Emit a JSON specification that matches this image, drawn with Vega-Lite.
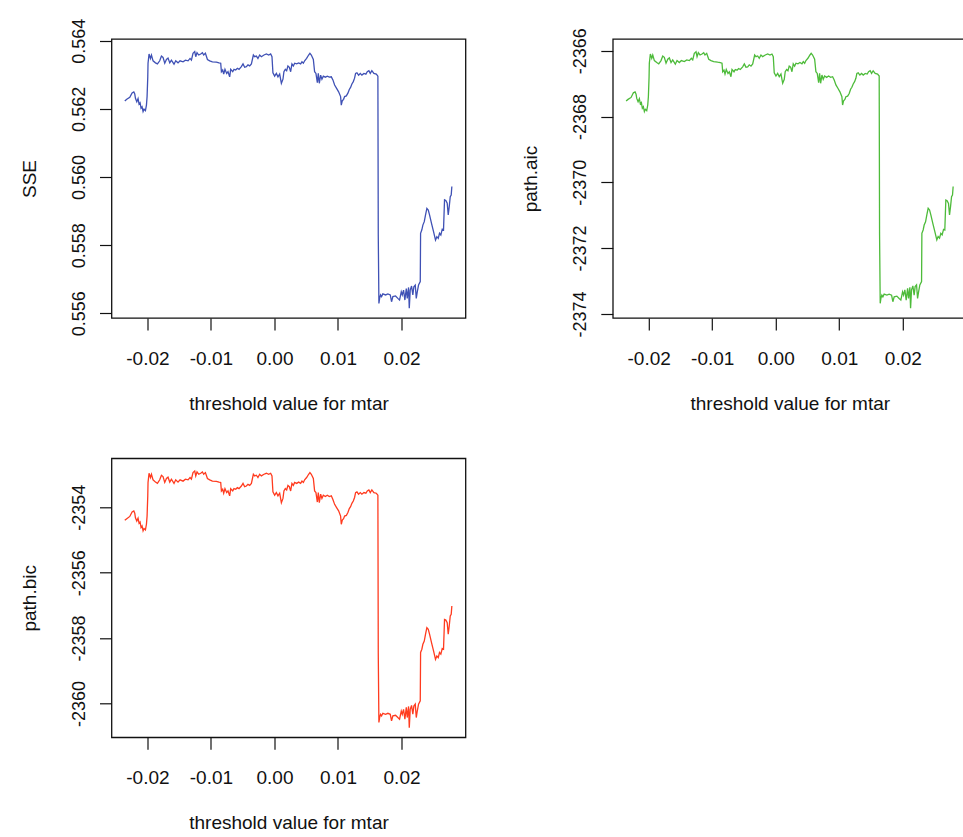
{
  "$schema": "https://vega.github.io/schema/vega-lite/v6.json",
  "background": "white",
  "padding": {"left": 19.5, "top": 17, "right": 0, "bottom": 0},
  "bounds": "flush",
  "spacing": {"row": 140.3, "column": 147.3},
  "columns": 2,
  "config": {
    "view": {"stroke": "#111", "strokeWidth": 1.3, "fill": "white"},
    "axis": {"domain": false, "grid": false, "ticks": true, "tickSize": 12, "tickColor": "#111", "tickWidth": 1.2, "labelFont": "Liberation Sans", "labelFontSize": 19, "labelColor": "#111", "titleFont": "Liberation Sans", "titleFontSize": 19, "titleFontWeight": "normal", "titleColor": "#111", "labelOverlap": false},
    "axisX": {"labelPadding": 19, "titlePadding": 26, "labelFlush": false},
    "axisY": {"labelAngle": 270, "labelAlign": "center", "labelBaseline": "alphabetic", "labelPadding": 15, "titlePadding": 31, "labelFontSize": 18, "labelFlush": false},
    "line": {"strokeWidth": 1.3}
  },
  "datasets": {
    "d": [
      {"x":-0.02356,"sse":0.56223,"aic":-2367.53,"bic":-2354.40},
      {"x":-0.02325,"sse":0.56228,"aic":-2367.48,"bic":-2354.35},
      {"x":-0.02277,"sse":0.56234,"aic":-2367.42,"bic":-2354.28},
      {"x":-0.02241,"sse":0.56247,"aic":-2367.28,"bic":-2354.14},
      {"x":-0.02214,"sse":0.56250,"aic":-2367.25,"bic":-2354.11},
      {"x":-0.02199,"sse":0.56244,"aic":-2367.32,"bic":-2354.18},
      {"x":-0.02188,"sse":0.56231,"aic":-2367.45,"bic":-2354.32},
      {"x":-0.02167,"sse":0.56221,"aic":-2367.55,"bic":-2354.42},
      {"x":-0.02147,"sse":0.56230,"aic":-2367.46,"bic":-2354.33},
      {"x":-0.02131,"sse":0.56214,"aic":-2367.62,"bic":-2354.49},
      {"x":-0.02115,"sse":0.56218,"aic":-2367.58,"bic":-2354.45},
      {"x":-0.02100,"sse":0.56202,"aic":-2367.75,"bic":-2354.62},
      {"x":-0.02084,"sse":0.56206,"aic":-2367.70,"bic":-2354.57},
      {"x":-0.02068,"sse":0.56192,"aic":-2367.85,"bic":-2354.72},
      {"x":-0.02053,"sse":0.56199,"aic":-2367.78,"bic":-2354.65},
      {"x":-0.02031,"sse":0.56195,"aic":-2367.82,"bic":-2354.69},
      {"x":-0.02015,"sse":0.56211,"aic":-2367.65,"bic":-2354.52},
      {"x":-0.02005,"sse":0.56236,"aic":-2367.40,"bic":-2354.27},
      {"x":-0.01994,"sse":0.56294,"aic":-2366.79,"bic":-2353.65},
      {"x":-0.01990,"sse":0.56334,"aic":-2366.38,"bic":-2353.24},
      {"x":-0.01974,"sse":0.56361,"aic":-2366.10,"bic":-2352.96},
      {"x":-0.01952,"sse":0.56348,"aic":-2366.23,"bic":-2353.09},
      {"x":-0.01936,"sse":0.56358,"aic":-2366.13,"bic":-2352.99},
      {"x":-0.01911,"sse":0.56341,"aic":-2366.30,"bic":-2353.16},
      {"x":-0.01873,"sse":0.56335,"aic":-2366.36,"bic":-2353.23},
      {"x":-0.01842,"sse":0.56332,"aic":-2366.40,"bic":-2353.27},
      {"x":-0.01806,"sse":0.56341,"aic":-2366.30,"bic":-2353.16},
      {"x":-0.01779,"sse":0.56355,"aic":-2366.16,"bic":-2353.02},
      {"x":-0.01754,"sse":0.56351,"aic":-2366.20,"bic":-2353.06},
      {"x":-0.01727,"sse":0.56334,"aic":-2366.38,"bic":-2353.24},
      {"x":-0.01700,"sse":0.56345,"aic":-2366.26,"bic":-2353.12},
      {"x":-0.01675,"sse":0.56349,"aic":-2366.22,"bic":-2353.08},
      {"x":-0.01648,"sse":0.56335,"aic":-2366.36,"bic":-2353.23},
      {"x":-0.01622,"sse":0.56343,"aic":-2366.28,"bic":-2353.14},
      {"x":-0.01581,"sse":0.56331,"aic":-2366.41,"bic":-2353.27},
      {"x":-0.01554,"sse":0.56341,"aic":-2366.30,"bic":-2353.16},
      {"x":-0.01518,"sse":0.56335,"aic":-2366.36,"bic":-2353.23},
      {"x":-0.01486,"sse":0.56341,"aic":-2366.30,"bic":-2353.16},
      {"x":-0.01439,"sse":0.56338,"aic":-2366.33,"bic":-2353.20},
      {"x":-0.01401,"sse":0.56343,"aic":-2366.28,"bic":-2353.14},
      {"x":-0.01360,"sse":0.56341,"aic":-2366.30,"bic":-2353.16},
      {"x":-0.01329,"sse":0.56348,"aic":-2366.23,"bic":-2353.09},
      {"x":-0.01307,"sse":0.56343,"aic":-2366.28,"bic":-2353.14},
      {"x":-0.01282,"sse":0.56363,"aic":-2366.08,"bic":-2352.94},
      {"x":-0.01255,"sse":0.56368,"aic":-2366.03,"bic":-2352.89},
      {"x":-0.01239,"sse":0.56353,"aic":-2366.18,"bic":-2353.04},
      {"x":-0.01219,"sse":0.56365,"aic":-2366.06,"bic":-2352.92},
      {"x":-0.01192,"sse":0.56358,"aic":-2366.13,"bic":-2352.99},
      {"x":-0.01161,"sse":0.56361,"aic":-2366.10,"bic":-2352.96},
      {"x":-0.01134,"sse":0.56365,"aic":-2366.06,"bic":-2352.92},
      {"x":-0.01114,"sse":0.56358,"aic":-2366.13,"bic":-2352.99},
      {"x":-0.01087,"sse":0.56363,"aic":-2366.08,"bic":-2352.94},
      {"x":-0.01055,"sse":0.56345,"aic":-2366.26,"bic":-2353.12},
      {"x":-0.01019,"sse":0.56341,"aic":-2366.30,"bic":-2353.16},
      {"x":-0.00977,"sse":0.56338,"aic":-2366.33,"bic":-2353.20},
      {"x":-0.00914,"sse":0.56337,"aic":-2366.35,"bic":-2353.21},
      {"x":-0.00873,"sse":0.56335,"aic":-2366.36,"bic":-2353.23},
      {"x":-0.00846,"sse":0.56334,"aic":-2366.38,"bic":-2353.24},
      {"x":-0.00835,"sse":0.56309,"aic":-2366.64,"bic":-2353.50},
      {"x":-0.00815,"sse":0.56314,"aic":-2366.59,"bic":-2353.45},
      {"x":-0.00799,"sse":0.56302,"aic":-2366.71,"bic":-2353.57},
      {"x":-0.00779,"sse":0.56316,"aic":-2366.57,"bic":-2353.43},
      {"x":-0.00752,"sse":0.56304,"aic":-2366.69,"bic":-2353.55},
      {"x":-0.00731,"sse":0.56309,"aic":-2366.64,"bic":-2353.50},
      {"x":-0.00705,"sse":0.56294,"aic":-2366.79,"bic":-2353.65},
      {"x":-0.00689,"sse":0.56316,"aic":-2366.57,"bic":-2353.43},
      {"x":-0.00657,"sse":0.56309,"aic":-2366.64,"bic":-2353.50},
      {"x":-0.00637,"sse":0.56316,"aic":-2366.57,"bic":-2353.43},
      {"x":-0.00610,"sse":0.56314,"aic":-2366.59,"bic":-2353.45},
      {"x":-0.00584,"sse":0.56319,"aic":-2366.54,"bic":-2353.40},
      {"x":-0.00558,"sse":0.56316,"aic":-2366.57,"bic":-2353.43},
      {"x":-0.00521,"sse":0.56324,"aic":-2366.49,"bic":-2353.35},
      {"x":-0.00495,"sse":0.56332,"aic":-2366.40,"bic":-2353.27},
      {"x":-0.00469,"sse":0.56322,"aic":-2366.50,"bic":-2353.37},
      {"x":-0.00442,"sse":0.56324,"aic":-2366.49,"bic":-2353.35},
      {"x":-0.00417,"sse":0.56329,"aic":-2366.43,"bic":-2353.30},
      {"x":-0.00390,"sse":0.56326,"aic":-2366.47,"bic":-2353.33},
      {"x":-0.00363,"sse":0.56332,"aic":-2366.40,"bic":-2353.27},
      {"x":-0.00332,"sse":0.56358,"aic":-2366.13,"bic":-2352.99},
      {"x":-0.00311,"sse":0.56353,"aic":-2366.18,"bic":-2353.04},
      {"x":-0.00285,"sse":0.56355,"aic":-2366.16,"bic":-2353.02},
      {"x":-0.00260,"sse":0.56348,"aic":-2366.23,"bic":-2353.09},
      {"x":-0.00233,"sse":0.56358,"aic":-2366.13,"bic":-2352.99},
      {"x":-0.00206,"sse":0.56353,"aic":-2366.18,"bic":-2353.04},
      {"x":-0.00165,"sse":0.56358,"aic":-2366.13,"bic":-2352.99},
      {"x":-0.00127,"sse":0.56361,"aic":-2366.10,"bic":-2352.96},
      {"x":-0.00091,"sse":0.56358,"aic":-2366.13,"bic":-2352.99},
      {"x":-0.00060,"sse":0.56361,"aic":-2366.10,"bic":-2352.96},
      {"x":-0.00039,"sse":0.56353,"aic":-2366.18,"bic":-2353.04},
      {"x":-0.00024,"sse":0.56306,"aic":-2366.67,"bic":-2353.53},
      {"x":0.00003,"sse":0.56296,"aic":-2366.77,"bic":-2353.63},
      {"x":0.00030,"sse":0.56304,"aic":-2366.69,"bic":-2353.55},
      {"x":0.00055,"sse":0.56294,"aic":-2366.79,"bic":-2353.65},
      {"x":0.00082,"sse":0.56302,"aic":-2366.71,"bic":-2353.57},
      {"x":0.00109,"sse":0.56275,"aic":-2366.99,"bic":-2353.86},
      {"x":0.00134,"sse":0.56287,"aic":-2366.87,"bic":-2353.73},
      {"x":0.00149,"sse":0.56309,"aic":-2366.64,"bic":-2353.50},
      {"x":0.00171,"sse":0.56316,"aic":-2366.57,"bic":-2353.43},
      {"x":0.00192,"sse":0.56312,"aic":-2366.61,"bic":-2353.47},
      {"x":0.00212,"sse":0.56326,"aic":-2366.47,"bic":-2353.33},
      {"x":0.00234,"sse":0.56322,"aic":-2366.50,"bic":-2353.37},
      {"x":0.00255,"sse":0.56309,"aic":-2366.64,"bic":-2353.50},
      {"x":0.00275,"sse":0.56332,"aic":-2366.40,"bic":-2353.27},
      {"x":0.00297,"sse":0.56326,"aic":-2366.47,"bic":-2353.33},
      {"x":0.00318,"sse":0.56334,"aic":-2366.38,"bic":-2353.24},
      {"x":0.00349,"sse":0.56332,"aic":-2366.40,"bic":-2353.27},
      {"x":0.00381,"sse":0.56335,"aic":-2366.36,"bic":-2353.23},
      {"x":0.00412,"sse":0.56332,"aic":-2366.40,"bic":-2353.27},
      {"x":0.00433,"sse":0.56338,"aic":-2366.33,"bic":-2353.20},
      {"x":0.00455,"sse":0.56334,"aic":-2366.38,"bic":-2353.24},
      {"x":0.00475,"sse":0.56341,"aic":-2366.30,"bic":-2353.16},
      {"x":0.00506,"sse":0.56348,"aic":-2366.23,"bic":-2353.09},
      {"x":0.00538,"sse":0.56358,"aic":-2366.13,"bic":-2352.99},
      {"x":0.00558,"sse":0.56363,"aic":-2366.08,"bic":-2352.94},
      {"x":0.00580,"sse":0.56358,"aic":-2366.13,"bic":-2352.99},
      {"x":0.00612,"sse":0.56345,"aic":-2366.26,"bic":-2353.12},
      {"x":0.00632,"sse":0.56309,"aic":-2366.64,"bic":-2353.50},
      {"x":0.00653,"sse":0.56304,"aic":-2366.69,"bic":-2353.55},
      {"x":0.00675,"sse":0.56277,"aic":-2366.97,"bic":-2353.84},
      {"x":0.00690,"sse":0.56304,"aic":-2366.69,"bic":-2353.55},
      {"x":0.00706,"sse":0.56275,"aic":-2366.99,"bic":-2353.86},
      {"x":0.00727,"sse":0.56299,"aic":-2366.74,"bic":-2353.60},
      {"x":0.00747,"sse":0.56287,"aic":-2366.87,"bic":-2353.73},
      {"x":0.00769,"sse":0.56296,"aic":-2366.77,"bic":-2353.63},
      {"x":0.00801,"sse":0.56293,"aic":-2366.81,"bic":-2353.67},
      {"x":0.00832,"sse":0.56296,"aic":-2366.77,"bic":-2353.63},
      {"x":0.00863,"sse":0.56293,"aic":-2366.81,"bic":-2353.67},
      {"x":0.00895,"sse":0.56294,"aic":-2366.79,"bic":-2353.65},
      {"x":0.00920,"sse":0.56285,"aic":-2366.89,"bic":-2353.76},
      {"x":0.00947,"sse":0.56270,"aic":-2367.04,"bic":-2353.91},
      {"x":0.00978,"sse":0.56260,"aic":-2367.14,"bic":-2354.01},
      {"x":0.01010,"sse":0.56250,"aic":-2367.25,"bic":-2354.11},
      {"x":0.01041,"sse":0.56236,"aic":-2367.40,"bic":-2354.27},
      {"x":0.01052,"sse":0.56211,"aic":-2367.65,"bic":-2354.52},
      {"x":0.01068,"sse":0.56224,"aic":-2367.52,"bic":-2354.39},
      {"x":0.01088,"sse":0.56228,"aic":-2367.48,"bic":-2354.35},
      {"x":0.01104,"sse":0.56236,"aic":-2367.40,"bic":-2354.27},
      {"x":0.01131,"sse":0.56238,"aic":-2367.38,"bic":-2354.25},
      {"x":0.01156,"sse":0.56246,"aic":-2367.30,"bic":-2354.16},
      {"x":0.01178,"sse":0.56257,"aic":-2367.17,"bic":-2354.04},
      {"x":0.01198,"sse":0.56263,"aic":-2367.11,"bic":-2353.98},
      {"x":0.01219,"sse":0.56273,"aic":-2367.01,"bic":-2353.88},
      {"x":0.01241,"sse":0.56280,"aic":-2366.94,"bic":-2353.81},
      {"x":0.01261,"sse":0.56290,"aic":-2366.84,"bic":-2353.70},
      {"x":0.01277,"sse":0.56304,"aic":-2366.69,"bic":-2353.55},
      {"x":0.01298,"sse":0.56306,"aic":-2366.67,"bic":-2353.53},
      {"x":0.01324,"sse":0.56299,"aic":-2366.74,"bic":-2353.60},
      {"x":0.01351,"sse":0.56304,"aic":-2366.69,"bic":-2353.55},
      {"x":0.01376,"sse":0.56299,"aic":-2366.74,"bic":-2353.60},
      {"x":0.01408,"sse":0.56304,"aic":-2366.69,"bic":-2353.55},
      {"x":0.01439,"sse":0.56302,"aic":-2366.71,"bic":-2353.57},
      {"x":0.01461,"sse":0.56309,"aic":-2366.64,"bic":-2353.50},
      {"x":0.01486,"sse":0.56312,"aic":-2366.61,"bic":-2353.47},
      {"x":0.01508,"sse":0.56304,"aic":-2366.69,"bic":-2353.55},
      {"x":0.01533,"sse":0.56312,"aic":-2366.61,"bic":-2353.47},
      {"x":0.01565,"sse":0.56304,"aic":-2366.69,"bic":-2353.55},
      {"x":0.01603,"sse":0.56302,"aic":-2366.71,"bic":-2353.57},
      {"x":0.01628,"sse":0.56296,"aic":-2366.77,"bic":-2353.63},
      {"x":0.01634,"sse":0.55830,"aic":-2371.60,"bic":-2358.49},
      {"x":0.01644,"sse":0.55629,"aic":-2373.68,"bic":-2360.58},
      {"x":0.01655,"sse":0.55644,"aic":-2373.53,"bic":-2360.43},
      {"x":0.01670,"sse":0.55654,"aic":-2373.43,"bic":-2360.33},
      {"x":0.01686,"sse":0.55649,"aic":-2373.48,"bic":-2360.38},
      {"x":0.01706,"sse":0.55657,"aic":-2373.40,"bic":-2360.30},
      {"x":0.01749,"sse":0.55654,"aic":-2373.43,"bic":-2360.33},
      {"x":0.01785,"sse":0.55657,"aic":-2373.40,"bic":-2360.30},
      {"x":0.01823,"sse":0.55654,"aic":-2373.43,"bic":-2360.33},
      {"x":0.01843,"sse":0.55634,"aic":-2373.63,"bic":-2360.53},
      {"x":0.01864,"sse":0.55649,"aic":-2373.48,"bic":-2360.38},
      {"x":0.01906,"sse":0.55651,"aic":-2373.46,"bic":-2360.36},
      {"x":0.01942,"sse":0.55644,"aic":-2373.53,"bic":-2360.43},
      {"x":0.01969,"sse":0.55639,"aic":-2373.58,"bic":-2360.48},
      {"x":0.01996,"sse":0.55663,"aic":-2373.33,"bic":-2360.23},
      {"x":0.02012,"sse":0.55654,"aic":-2373.43,"bic":-2360.33},
      {"x":0.02032,"sse":0.55668,"aic":-2373.27,"bic":-2360.18},
      {"x":0.02053,"sse":0.55639,"aic":-2373.58,"bic":-2360.48},
      {"x":0.02075,"sse":0.55673,"aic":-2373.22,"bic":-2360.12},
      {"x":0.02090,"sse":0.55644,"aic":-2373.53,"bic":-2360.43},
      {"x":0.02111,"sse":0.55676,"aic":-2373.19,"bic":-2360.09},
      {"x":0.02122,"sse":0.55615,"aic":-2373.83,"bic":-2360.74},
      {"x":0.02137,"sse":0.55668,"aic":-2373.27,"bic":-2360.18},
      {"x":0.02158,"sse":0.55680,"aic":-2373.15,"bic":-2360.06},
      {"x":0.02178,"sse":0.55654,"aic":-2373.43,"bic":-2360.33},
      {"x":0.02194,"sse":0.55678,"aic":-2373.17,"bic":-2360.08},
      {"x":0.02216,"sse":0.55683,"aic":-2373.12,"bic":-2360.02},
      {"x":0.02232,"sse":0.55644,"aic":-2373.53,"bic":-2360.43},
      {"x":0.02248,"sse":0.55663,"aic":-2373.33,"bic":-2360.23},
      {"x":0.02268,"sse":0.55683,"aic":-2373.12,"bic":-2360.02},
      {"x":0.02295,"sse":0.55693,"aic":-2373.02,"bic":-2359.92},
      {"x":0.02300,"sse":0.55835,"aic":-2371.55,"bic":-2358.44},
      {"x":0.02320,"sse":0.55845,"aic":-2371.45,"bic":-2358.34},
      {"x":0.02336,"sse":0.55859,"aic":-2371.30,"bic":-2358.19},
      {"x":0.02358,"sse":0.55869,"aic":-2371.20,"bic":-2358.09},
      {"x":0.02378,"sse":0.55889,"aic":-2370.99,"bic":-2357.88},
      {"x":0.02399,"sse":0.55908,"aic":-2370.79,"bic":-2357.68},
      {"x":0.02421,"sse":0.55903,"aic":-2370.84,"bic":-2357.73},
      {"x":0.02441,"sse":0.55889,"aic":-2370.99,"bic":-2357.88},
      {"x":0.02472,"sse":0.55864,"aic":-2371.25,"bic":-2358.14},
      {"x":0.02504,"sse":0.55840,"aic":-2371.50,"bic":-2358.39},
      {"x":0.02535,"sse":0.55815,"aic":-2371.75,"bic":-2358.65},
      {"x":0.02556,"sse":0.55825,"aic":-2371.65,"bic":-2358.55},
      {"x":0.02578,"sse":0.55820,"aic":-2371.70,"bic":-2358.60},
      {"x":0.02598,"sse":0.55835,"aic":-2371.55,"bic":-2358.44},
      {"x":0.02619,"sse":0.55830,"aic":-2371.60,"bic":-2358.49},
      {"x":0.02641,"sse":0.55847,"aic":-2371.43,"bic":-2358.32},
      {"x":0.02661,"sse":0.55845,"aic":-2371.45,"bic":-2358.34},
      {"x":0.02677,"sse":0.55933,"aic":-2370.54,"bic":-2357.43},
      {"x":0.02697,"sse":0.55931,"aic":-2370.56,"bic":-2357.45},
      {"x":0.02719,"sse":0.55923,"aic":-2370.64,"bic":-2357.53},
      {"x":0.02735,"sse":0.55889,"aic":-2370.99,"bic":-2357.88},
      {"x":0.02751,"sse":0.55913,"aic":-2370.74,"bic":-2357.63},
      {"x":0.02767,"sse":0.55942,"aic":-2370.44,"bic":-2357.32},
      {"x":0.02782,"sse":0.55947,"aic":-2370.39,"bic":-2357.27},
      {"x":0.02792,"sse":0.55972,"aic":-2370.13,"bic":-2357.02}
    ]
  },
  "concat": [
    {
      "width": 354, "height": 279,
      "data": {"name": "d"},
      "mark": {"type": "line", "color": "#3F51B5", "strokeWidth": 1.3},
      "encoding": {
        "x": {"field": "x", "type": "quantitative", "scale": {"domain": [-0.02565, 0.03007], "nice": false, "zero": false},
              "axis": {"title": "threshold value for mtar", "values": [-0.02, -0.01, 0, 0.01, 0.02], "format": ".2f", "labelExpr": "replace(datum.label, '\u2212', '-')"}},
        "y": {"field": "sse", "type": "quantitative", "scale": {"domain": [0.555863, 0.56405], "nice": false, "zero": false},
              "axis": {"title": "SSE", "values": [0.556, 0.558, 0.56, 0.562, 0.564], "format": ".3f"}}
      }
    },
    {
      "width": 354, "height": 279,
      "data": {"name": "d"},
      "mark": {"type": "line", "color": "#4DBB3A", "strokeWidth": 1.3},
      "encoding": {
        "x": {"field": "x", "type": "quantitative", "scale": {"domain": [-0.02565, 0.03007], "nice": false, "zero": false},
              "axis": {"title": "threshold value for mtar", "values": [-0.02, -0.01, 0, 0.01, 0.02], "format": ".2f", "labelExpr": "replace(datum.label, '\u2212', '-')"}},
        "y": {"field": "aic", "type": "quantitative", "scale": {"domain": [-2374.125, -2365.644], "nice": false, "zero": false},
              "axis": {"title": "path.aic", "values": [-2374, -2372, -2370, -2368, -2366], "format": "d", "labelExpr": "replace(datum.label, '\u2212', '-')"}}
      }
    },
    {
      "width": 354, "height": 279,
      "data": {"name": "d"},
      "mark": {"type": "line", "color": "#FF3B1F", "strokeWidth": 1.3},
      "encoding": {
        "x": {"field": "x", "type": "quantitative", "scale": {"domain": [-0.02565, 0.03007], "nice": false, "zero": false},
              "axis": {"title": "threshold value for mtar", "values": [-0.02, -0.01, 0, 0.01, 0.02], "format": ".2f", "labelExpr": "replace(datum.label, '\u2212', '-')"}},
        "y": {"field": "bic", "type": "quantitative", "scale": {"domain": [-2361.034, -2352.502], "nice": false, "zero": false},
              "axis": {"title": "path.bic", "values": [-2360, -2358, -2356, -2354], "format": "d", "labelExpr": "replace(datum.label, '\u2212', '-')"}}
      }
    }
  ]
}
